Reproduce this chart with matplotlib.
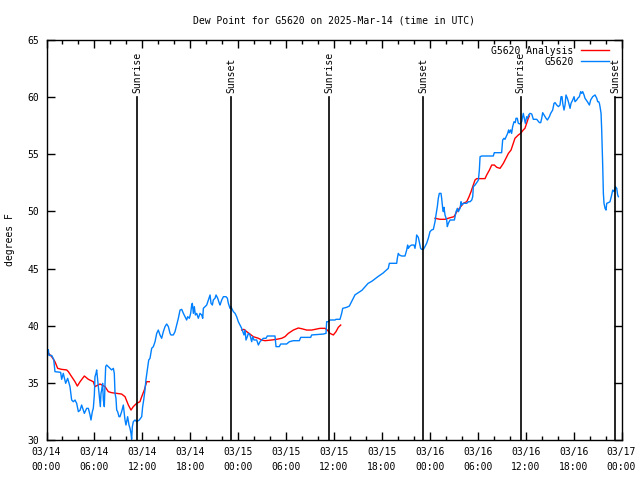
import matplotlib
matplotlib.use("Agg")
import matplotlib.pyplot as plt
import matplotlib.dates as mdates
import pandas as pd

# hours since 2025-03-14 00:00 UTC, dew point in degrees F
obs_hours = [0.23, 0.31, 0.65, 0.90, 1.06, 1.77, 1.90, 2.10, 2.40, 2.65, 2.94, 3.15, 3.36, 3.57,
             3.78, 3.99, 4.20, 4.40, 4.61, 4.74, 5.03, 5.24, 5.45, 5.57, 5.74, 5.86, 5.99, 6.07,
             6.20, 6.28, 6.41, 6.49, 6.62, 6.74, 6.82, 6.91, 7.03, 7.12, 7.24, 7.33, 7.41, 7.53,
             7.74, 7.95, 8.16, 8.37, 8.49, 8.58, 8.70, 8.79, 8.91, 9.08, 9.20, 9.41, 9.62, 9.83,
             9.95, 10.16, 10.33, 10.46, 10.58, 10.66, 10.75, 10.87, 11.08, 11.29, 11.62, 11.92,
             12.04, 12.17, 12.33,
             12.46, 12.63, 12.80, 12.96, 13.17, 13.38, 13.59, 13.80, 14.00, 14.21, 14.42, 14.63,
             14.84, 15.05, 15.26, 15.47, 15.59, 15.88, 16.09, 16.30, 16.51, 16.72, 16.93, 17.14,
             17.35, 17.55, 17.68, 17.89, 18.05, 18.18, 18.26, 18.39, 18.51, 18.64, 18.81, 19.01,
             19.22, 19.43, 19.56, 19.64, 19.85, 20.06, 20.27, 20.48, 20.60, 20.77, 20.89, 21.10,
             21.23, 21.44, 21.64, 21.73, 21.94, 22.15, 22.48, 22.65, 22.77, 22.98, 23.11, 23.19,
             23.40, 23.61, 23.81, 24.02, 24.23,
             24.44, 24.65, 24.73, 24.86, 24.98, 25.15, 25.27, 25.48, 25.69, 25.82, 25.98, 26.32,
             26.53, 26.73, 26.94, 27.15, 27.49, 27.65, 28.61, 28.74, 29.15, 29.32, 30.07, 30.41,
             30.91, 31.66, 31.83, 33.08, 33.20, 34.66, 35.00, 35.08, 35.29, 35.50, 36.13, 36.25,
             36.75, 36.96, 37.09, 37.59, 37.92,
             38.63, 39.50, 40.26, 40.76, 41.51, 42.13,
             42.80, 42.93, 43.85, 43.93, 44.05, 44.18, 44.47, 44.89, 45.10, 45.22, 45.31, 45.52,
             45.72, 46.02, 46.14, 46.27, 46.35, 46.56, 46.68, 46.85, 46.98, 47.19, 47.39, 47.60,
             47.81, 48.02, 48.23, 48.44, 48.65, 48.77, 48.94, 49.06, 49.19, 49.40, 49.48, 49.61,
             49.69, 49.77, 49.90, 50.11, 50.19, 50.32,
             50.53, 51.07, 51.16, 51.28, 51.45, 51.57, 51.78, 51.91, 52.00, 52.20, 52.62, 52.83,
             53.04, 53.25, 53.37, 53.45, 53.66, 53.95, 54.08, 54.20, 54.29,
             54.49, 55.95, 56.07, 56.99, 57.12, 57.28, 57.41, 57.74, 57.87, 57.95, 58.12, 58.24,
             58.37, 58.54, 58.70, 58.79, 58.95, 59.08, 59.29, 59.50, 59.70, 59.83, 59.96, 60.12,
             60.25, 60.37, 60.54,
             60.76, 60.96, 61.38, 61.72, 61.88, 62.01, 62.13, 62.30, 62.55, 62.72, 62.97, 63.13,
             63.38, 63.55, 63.68, 63.89, 64.10, 64.30, 64.43, 64.55, 64.64, 64.80, 64.93, 65.05,
             65.22, 65.35, 65.56, 65.68, 65.89, 66.06, 66.18, 66.39, 66.52, 66.72, 66.89, 67.02,
             67.14, 67.31, 67.43, 67.73, 67.98, 68.14, 68.39, 68.69, 68.90, 69.02, 69.15, 69.23,
             69.31, 69.44, 69.52, 69.65, 69.73, 69.81, 69.94, 70.06, 70.15, 70.36, 70.56, 70.77,
             70.90, 71.07, 71.23, 71.40, 71.52, 71.61]
obs_dewpt = [37.9, 37.4, 37.4, 37.06, 35.98, 35.92, 35.31, 35.83, 34.96, 35.4, 34.67, 33.5, 33.35, 33.5,
             33.2, 32.48, 32.6, 33.06, 32.6, 32.33, 32.77, 32.77, 32.19, 31.75, 32.48, 32.77, 33.94, 35.54,
             35.83, 36.13, 35.25, 34.67, 33.79, 32.92, 34.08, 34.38, 34.96, 33.5, 32.92, 34.96, 36.42, 36.56,
             36.42, 36.27, 36.13, 36.27, 35.83, 34.08, 33.65, 32.62, 32.48, 32.04, 32.04, 32.48, 33.06, 31.75,
             31.31, 32.04, 31.31, 31.02, 30.58, 30.06, 31.17, 31.6, 31.75, 31.6, 31.75, 32.04,
             32.92, 33.5, 34.38,
             35.31, 36.13, 37.0, 37.15, 38.02, 38.17, 38.6, 39.33, 39.62, 39.19, 38.9, 39.48,
             39.92, 40.15, 39.92, 39.33, 39.19, 39.19, 39.48, 40.06, 40.65, 41.37, 41.43, 41.08,
             40.79, 40.5, 40.79, 40.65, 41.08, 41.81, 41.96, 41.08, 41.67, 40.94, 41.08, 40.65,
             41.08, 40.94, 40.65, 41.52, 41.67, 41.81, 42.25, 42.69, 41.96, 41.81, 42.25, 42.4,
             42.69, 42.4, 41.96, 41.81, 42.25, 42.54, 42.54, 42.4, 41.96, 41.52, 41.67, 41.52,
             41.23, 41.08, 40.79, 40.35, 40.06,
             39.77, 39.33, 39.19, 39.62, 38.75, 39.04, 39.33, 39.19, 38.6, 39.04, 38.75, 38.75,
             38.31, 38.6, 38.75, 38.9, 38.9, 39.1, 39.1, 38.17, 38.17, 38.4, 38.4, 38.6,
             38.69, 38.69, 38.98, 38.98, 39.19, 39.27, 39.33, 40.35, 40.35, 40.5, 40.5, 40.56,
             40.56, 41.08, 41.52, 41.61, 41.72,
             42.7, 43.1, 43.7, 43.9, 44.3, 44.6,
             45.02, 45.46, 45.46, 45.9, 46.33, 46.19, 46.1, 46.1, 46.62, 47.06, 46.77, 46.98,
             47.06, 47.06, 46.77, 47.35, 47.94, 47.73, 47.35, 46.77, 46.68, 46.68, 46.92, 47.21,
             47.65, 48.23, 48.38, 48.43, 49.1, 49.69, 50.42, 51.15, 51.58, 51.58, 51.15, 50.27,
             49.98, 50.36, 49.69, 49.25, 48.67, 48.96,
             49.25, 49.25, 49.54, 49.98, 50.27, 49.98, 50.27, 50.85, 50.56, 50.71, 50.71, 50.85,
             50.85, 51.0, 51.29, 52.17, 52.31, 52.6, 52.75, 53.62, 54.79,
             54.85, 54.85, 55.14, 55.14, 56.25, 56.4, 56.31, 56.83, 57.13, 56.89, 57.13, 56.83,
             57.42, 57.85, 57.77, 58.15, 58.15, 57.71, 57.65, 57.85, 58.58, 58.15, 57.71, 58.29,
             58.15, 58.44, 58.58,
             58.52, 58.06, 58.06, 57.77, 57.77, 58.15, 58.64, 58.44, 58.15, 58.0, 58.29, 58.58,
             58.87, 59.46, 59.52, 59.31, 59.17, 59.31, 60.04, 60.04, 59.46, 58.87, 59.31, 60.19,
             59.9, 59.6, 59.02, 59.46, 59.75, 60.04, 59.6, 59.75, 59.9, 60.04, 60.48, 60.33,
             60.48, 60.19, 59.9, 59.6, 59.31, 59.75, 60.04, 60.19, 59.9, 59.6, 59.6, 59.46,
             59.17, 58.58, 57.13, 53.92, 51.58, 50.71, 50.27, 50.12, 50.71, 50.77, 50.85, 51.44,
             51.87, 51.73, 52.17, 52.02, 51.44, 51.29]

# analysis, three separate stretches
ana1_hours = [0.1, 0.65, 1.06, 1.4, 1.9, 2.53, 2.74, 3.15, 3.57, 3.86, 4.2, 4.74, 5.24, 5.86, 6.07,
              6.7, 7.33, 7.74, 8.16, 8.79, 9.41, 9.83, 10.25, 10.58, 10.87, 11.29, 11.7, 11.92,
              12.25, 12.54, 12.87]
ana1_dewpt = [37.7, 37.29, 36.85, 36.27, 36.18, 36.13, 35.98, 35.54, 35.1, 34.72, 35.1, 35.6, 35.31,
              35.1, 34.67, 34.9, 34.67, 34.23, 34.14, 34.08, 34.02, 33.79, 33.06, 32.62, 32.92,
              33.21, 33.35, 33.79, 34.38, 35.1, 35.1]
ana2_hours = [24.44, 24.73, 25.07, 25.48, 25.9, 26.53, 26.94, 27.36, 28.2, 28.82, 29.45, 29.86,
              30.28, 30.91, 31.53, 31.95, 32.58, 33.2, 33.62, 34.25, 34.87, 35.17, 35.5, 35.92,
              36.25, 36.54, 36.84]
ana2_dewpt = [39.62, 39.68, 39.48, 39.27, 39.04, 38.9, 38.75, 38.69, 38.75, 38.81, 38.9, 39.04,
              39.33, 39.62, 39.8, 39.74, 39.62, 39.62, 39.68, 39.77, 39.77, 39.62, 39.33, 39.19,
              39.48, 39.86, 40.06]
ana3_hours = [48.65, 49.28, 49.9, 50.53, 51.03, 51.37, 51.7, 52.2, 52.62, 52.91, 53.16, 53.37,
              53.66, 53.87, 54.91, 55.12, 55.46, 55.75, 56.08, 56.38, 56.79, 57.21, 57.63, 57.84,
              58.17, 58.66, 59.08, 59.37, 59.7, 59.91, 60.12, 60.33, 60.46]
ana3_dewpt = [49.4, 49.31, 49.31, 49.45, 49.54, 49.98, 50.27, 50.71, 50.85, 51.29, 51.73, 52.17,
              52.75, 52.87, 52.87, 53.19, 53.62, 54.06, 54.06, 53.86, 53.77, 54.21, 54.79, 55.08,
              55.375, 56.4, 56.69, 56.83, 57.13, 57.27, 57.71, 58.15, 58.35]

sun_hours = [11.37, 23.15, 35.42, 47.19, 59.38, 71.23]
sun_labels = ["Sunrise", "Sunset", "Sunrise", "Sunset", "Sunrise", "Sunset"]

start = pd.Timestamp("2025-03-14 00:00")


def to_time(hours):
    return start + pd.to_timedelta(hours, unit="h")


if __name__ == "__main__":
    plt.rcParams["font.family"] = "DejaVu Sans Mono"
    plt.rcParams["font.size"] = 7

    fig = plt.figure(figsize=(6.4, 4.8), dpi=100)
    ax = fig.add_axes([46.5 / 640, 40 / 480, 575 / 640, 400 / 480])

    ax.plot(to_time(ana1_hours), ana1_dewpt, color="#ff0000", lw=1, label="G5620 Analysis")
    ax.plot(to_time(ana2_hours), ana2_dewpt, color="#ff0000", lw=1)
    ax.plot(to_time(ana3_hours), ana3_dewpt, color="#ff0000", lw=1)
    ax.plot(to_time(obs_hours), obs_dewpt, color="#0080ff", lw=1, label="G5620")

    for h, lab in zip(sun_hours, sun_labels):
        t = to_time(h)
        ax.plot([t, t], [30, 60], color="black", lw=1.2)
        ax.text(t, 60.4, lab, rotation=90, ha="center", va="bottom")

    ax.set_xlim(to_time(0), to_time(72))
    ax.set_ylim(30, 65)
    ax.set_yticks(range(30, 66, 5))
    ax.xaxis.set_major_locator(mdates.HourLocator(byhour=[0, 6, 12, 18]))
    ax.xaxis.set_minor_locator(mdates.HourLocator(byhour=range(0, 24, 2)))
    ax.xaxis.set_major_formatter(mdates.DateFormatter("%m/%d\n%H:%M"))
    ax.tick_params(which="both", direction="in", top=True, right=True, width=1)
    ax.tick_params(which="major", length=6, pad=5)
    ax.tick_params(which="minor", length=3)
    for lbl in ax.get_xticklabels():
        lbl.set_linespacing(1.6)
    for s in ax.spines.values():
        s.set_linewidth(1)

    ax.set_title("Dew Point for G5620 on 2025-Mar-14 (time in UTC)", fontsize=7, pad=12)
    ax.set_ylabel("degrees F", labelpad=9)
    ax.legend(loc="upper right", bbox_to_anchor=(1 - 7 / 575, 1), frameon=False,
              markerfirst=False, handlelength=2.8, borderaxespad=0.2, labelspacing=0.1)

    plt.savefig("out.png")
